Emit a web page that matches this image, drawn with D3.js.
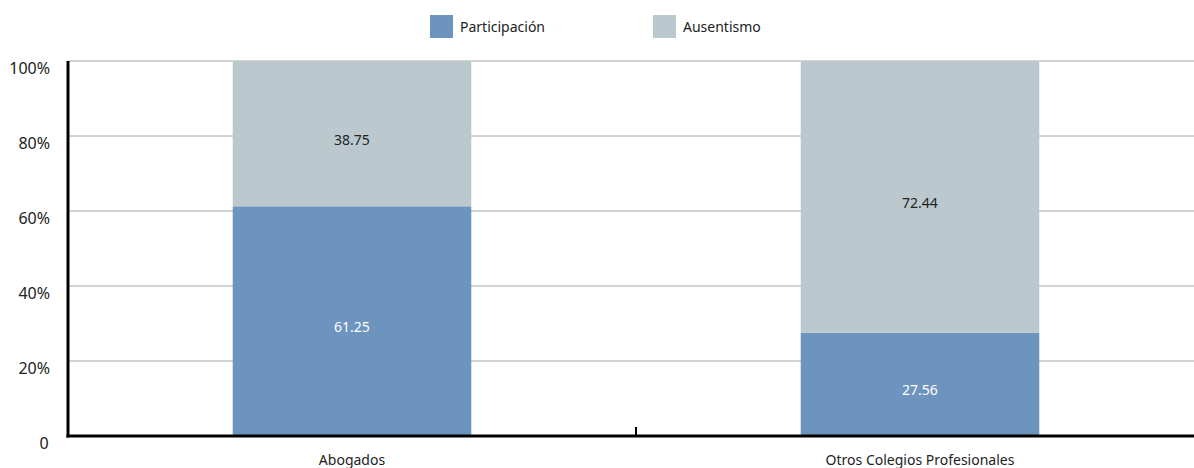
<!DOCTYPE html>
<html lang='es'>
<head>
  <meta charset='UTF-8'>
  <title>Participación</title>
  <script src='https://d3js.org/d3.v7.min.js'></script>
  <style>
    body { margin: 0; background: #fff; }
    #main { width: 1194px; height: 468px; }
    text { font-family: 'Noto Sans', 'Open Sans', sans-serif; fill: #222; }
  </style>
</head>
<body>
<div id='main'></div>
<script>
  // datos
  const categories = ['Abogados', 'Otros Colegios Profesionales']
  const seriesNames = ['Participación', 'Ausentismo']
  const participacion = [61.25, 27.56]
  const ausentismo = [38.75, 72.44]
  const yTicks = [0, 20, 40, 60, 80, 100]
  const colors = ['#6d93bf', '#bbc9ce']

  const width = 1194
  const height = 468
  const margin = { top: 61, right: -10, bottom: 32, left: 68 }

  const svg = d3.select('#main').append('svg')
    .attr('width', width)
    .attr('height', height)

  const x = d3.scaleBand()
    .domain(categories)
    .range([margin.left, width - margin.right])
    .paddingInner(0.58)
    .paddingOuter(0.29)

  const y = d3.scaleLinear()
    .domain([0, 100])
    .range([height - margin.bottom, margin.top])

  // líneas de cuadrícula
  svg.append('g')
    .selectAll('line')
    .data(yTicks.filter(d => d > 0))
    .enter().append('line')
    .attr('x1', margin.left)
    .attr('x2', width)
    .attr('y1', d => y(d))
    .attr('y2', d => y(d))
    .attr('stroke', '#a8a8a8')
    .attr('stroke-width', 1)

  // etiquetas eje y
  svg.append('g')
    .selectAll('text')
    .data(yTicks)
    .enter().append('text')
    .attr('x', d => d === 0 ? 44 : 50)
    .attr('y', d => y(d) + 13)
    .attr('text-anchor', d => d === 0 ? 'middle' : 'end')
    .style('font-size', '16px')
    .text(d => d === 0 ? '0' : d + '%')

  // barras apiladas
  const rows = categories.map((c, i) => ({ cat: c, Participación: participacion[i], Ausentismo: ausentismo[i] }))
  const stack = d3.stack().keys(seriesNames)(rows)

  const layers = svg.append('g')
    .selectAll('g')
    .data(stack)
    .enter().append('g')
    .attr('fill', (d, i) => colors[i])

  layers.selectAll('rect')
    .data(d => d)
    .enter().append('rect')
    .attr('x', d => x(d.data.cat))
    .attr('width', x.bandwidth())
    .attr('y', d => y(d[1]))
    .attr('height', d => y(d[0]) - y(d[1]))

  // valores dentro de las barras
  stack.forEach((layer, li) => {
    svg.append('g')
      .selectAll('text')
      .data(layer)
      .enter().append('text')
      .attr('x', d => x(d.data.cat) + x.bandwidth() / 2)
      .attr('y', d => (y(d[0]) + y(d[1])) / 2 + 11)
      .attr('text-anchor', 'middle')
      .style('font-size', '14px')
      .style('fill', li === 0 ? '#ffffff' : '#222')
      .text(d => (d[1] - d[0]).toFixed(2))
  })

  // ejes
  const y0 = y(0)
  svg.append('line')
    .attr('x1', margin.left).attr('x2', margin.left)
    .attr('y1', y(100)).attr('y2', y0 + 1.5)
    .attr('stroke', '#000').attr('stroke-width', 3)
  svg.append('line')
    .attr('x1', margin.left - 1.5).attr('x2', width)
    .attr('y1', y0).attr('y2', y0)
    .attr('stroke', '#000').attr('stroke-width', 3)
  // marca entre categorías
  const midX = (x(categories[0]) + x.bandwidth() + x(categories[1])) / 2
  svg.append('line')
    .attr('x1', midX).attr('x2', midX)
    .attr('y1', y0 - 9).attr('y2', y0)
    .attr('stroke', '#000').attr('stroke-width', 2)

  // etiquetas eje x
  svg.append('g')
    .selectAll('text')
    .data(categories)
    .enter().append('text')
    .attr('x', d => x(d) + x.bandwidth() / 2)
    .attr('y', 465)
    .attr('text-anchor', 'middle')
    .style('font-size', '14px')
    .text(d => d)

  // leyenda
  const legendX = [430, 653]
  const legend = svg.append('g')
    .selectAll('g')
    .data(seriesNames)
    .enter().append('g')
    .attr('transform', (d, i) => `translate(${legendX[i]}, 15)`)
  legend.append('rect')
    .attr('width', 23).attr('height', 23)
    .attr('fill', (d, i) => colors[i])
  legend.append('text')
    .attr('x', 30).attr('y', 17)
    .style('font-size', '14px')
    .text(d => d)
</script>
</body>
</html>
